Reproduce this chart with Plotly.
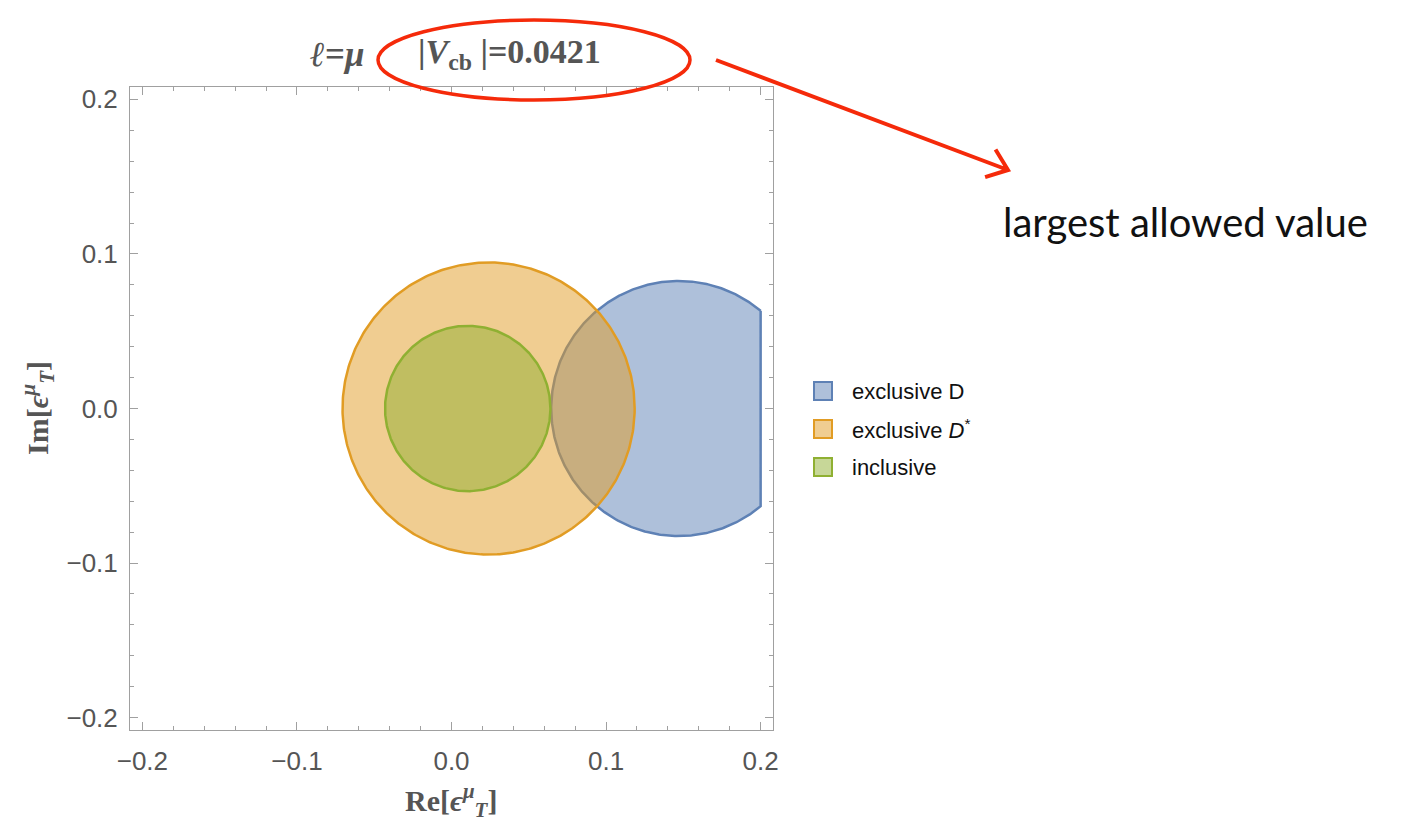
import numpy as np
import plotly.graph_objects as go

# ---------------- data ----------------
region_names = ["exclusive D", "exclusive <i>D</i><sup>*</sup>", "inclusive"]
center_re = [0.147, 0.024, 0.0105]
center_im = [0.0, 0.0, 0.0]
radius = [0.0825, 0.0945, 0.0535]
re_limit = [0.2, None, None]          # scan domain limit (blue region is cut at Re = 0.2)
edge_colors = ["#5E81B5", "#E19C24", "#8FB032"]
fill_colors = ["rgba(94,129,181,0.5)", "rgba(225,156,36,0.5)", "rgba(143,176,50,0.5)"]

tick_vals = [-0.2, -0.1, 0.0, 0.1, 0.2]
tick_text = ["\u22120.2", "\u22120.1", "0.0", "0.1", "0.2"]
axis_range = [-0.208, 0.208]

title_left = "<b><i>\u2113</i>=<i>\u03bc</i></b>"
title_right = "<b>|<i>V</i><sub>cb</sub> |=0.0421</b>"
note_text = "largest allowed value"

# ---------------- figure ----------------
W, H = 1407, 824
L, R, T, B = 130, 773, 87, 730   # plot area in pixels


def px_to_paper(px, py):
    return (px - L) / (R - L), (B - py) / (B - T)


fig = go.Figure()

for name, cx, cy, r, lim, ec, fc in zip(region_names, center_re, center_im, radius,
                                        re_limit, edge_colors, fill_colors):
    if lim is not None and cx + r > lim:
        t0 = np.arccos((lim - cx) / r)
        t = np.linspace(t0, 2 * np.pi - t0, 400)
    else:
        t = np.linspace(0, 2 * np.pi, 400)
    xs = cx + r * np.cos(t)
    ys = cy + r * np.sin(t)
    xs = np.append(xs, xs[0])
    ys = np.append(ys, ys[0])
    fig.add_trace(go.Scatter(x=xs, y=ys, mode="lines", fill="toself",
                             fillcolor=fc, line=dict(color=ec, width=2.5),
                             name=name, showlegend=False, hoverinfo="skip"))

axis_common = dict(
    range=axis_range, showgrid=False, zeroline=False,
    showline=True, linecolor="#A0A0A0", linewidth=1, mirror="ticks",
    ticks="inside", ticklen=8, tickwidth=1, tickcolor="#A0A0A0",
    tickvals=tick_vals, ticktext=tick_text,
    tickfont=dict(family="Liberation Sans, Arial", size=26, color="#555555"),
    minor=dict(ticks="inside", ticklen=4, tickwidth=1, tickcolor="#A0A0A0", dtick=0.02,
               tick0=0, showgrid=False),
)

fig.update_layout(
    width=W, height=H,
    margin=dict(l=L, r=W - R, t=T, b=H - B, pad=0),
    plot_bgcolor="white", paper_bgcolor="white",
    showlegend=False,
    xaxis=dict(**axis_common, ticklabelstandoff=8),
    yaxis=dict(**axis_common, ticklabelstandoff=6),
)

serif = "Liberation Serif, Times New Roman, DejaVu Serif, serif"
ann = []
# titles
x, y = px_to_paper(337, 54)
ann.append(dict(text=title_left, x=x, y=y, xref="paper", yref="paper", showarrow=False,
                xanchor="center", yanchor="middle",
                font=dict(family=serif, size=35, color="#555555")))
x, y = px_to_paper(416, 54)
ann.append(dict(text=title_right, x=x, y=y, xref="paper", yref="paper", showarrow=False,
                xanchor="left", yanchor="middle",
                font=dict(family=serif, size=34, color="#555555")))
# axis titles
x, y = px_to_paper(451, 800)
ann.append(dict(text="<b>Re[<i>\u03f5</i><sup><i>\u03bc</i></sup><sub><i>T</i></sub>]</b>",
                x=x, y=y, xref="paper", yref="paper", showarrow=False,
                xanchor="center", yanchor="middle",
                font=dict(family=serif, size=30, color="#555555")))
x, y = px_to_paper(38, 408)
ann.append(dict(text="<b>Im[<i>\u03f5</i><sup><i>\u03bc</i></sup><sub><i>T</i></sub>]</b>",
                x=x, y=y, xref="paper", yref="paper", showarrow=False, textangle=-90,
                xanchor="center", yanchor="middle",
                font=dict(family=serif, size=30, color="#555555")))
# note
x, y = px_to_paper(1185, 222)
ann.append(dict(text=note_text, x=x, y=y, xref="paper", yref="paper", showarrow=False,
                xanchor="center", yanchor="middle",
                font=dict(family="Lato, Noto Sans", size=40, color="#111111")))

# manual legend
shapes = []
row_y = [391, 429, 467]
for name, ec, fc, ry in zip(region_names, edge_colors, fill_colors, row_y):
    x0, y0 = px_to_paper(814, ry + 9)
    x1, y1 = px_to_paper(832, ry - 9)
    shapes.append(dict(type="rect", xref="paper", yref="paper", x0=x0, y0=y0, x1=x1, y1=y1,
                       fillcolor=fc, line=dict(color=ec, width=2)))
    tx, ty = px_to_paper(850, ry)
    ann.append(dict(text=name, x=tx, y=ty, xref="paper", yref="paper", showarrow=False,
                    xanchor="left", yanchor="middle",
                    font=dict(family="Liberation Sans, Arial", size=22, color="#111111")))

# red ellipse around the title value
ex0, ey0 = px_to_paper(378, 100)
ex1, ey1 = px_to_paper(690, 20)
shapes.append(dict(type="circle", xref="paper", yref="paper", x0=ex0, y0=ey0, x1=ex1, y1=ey1,
                   line=dict(color="#F52A0A", width=3.5)))

# red arrow
tail = np.array([716.0, 60.0])
tip = np.array([1008.0, 170.0])
d = (tail - tip) / np.linalg.norm(tail - tip)
def rot(v, a):
    c, s = np.cos(a), np.sin(a)
    return np.array([c * v[0] - s * v[1], s * v[0] + c * v[1]])
arm1 = tip + 24 * rot(d, np.radians(38))
arm2 = tip + 24 * rot(d, np.radians(-38))
def p(pt):
    a, b = px_to_paper(pt[0], pt[1])
    return f"{a:.5f},{b:.5f}"
path = f"M{p(tail)} L{p(tip)} M{p(arm1)} L{p(tip)} L{p(arm2)}"
shapes.append(dict(type="path", xref="paper", yref="paper", path=path,
                   line=dict(color="#F52A0A", width=4)))

fig.update_layout(annotations=ann, shapes=shapes)
fig.write_html("out.html")
